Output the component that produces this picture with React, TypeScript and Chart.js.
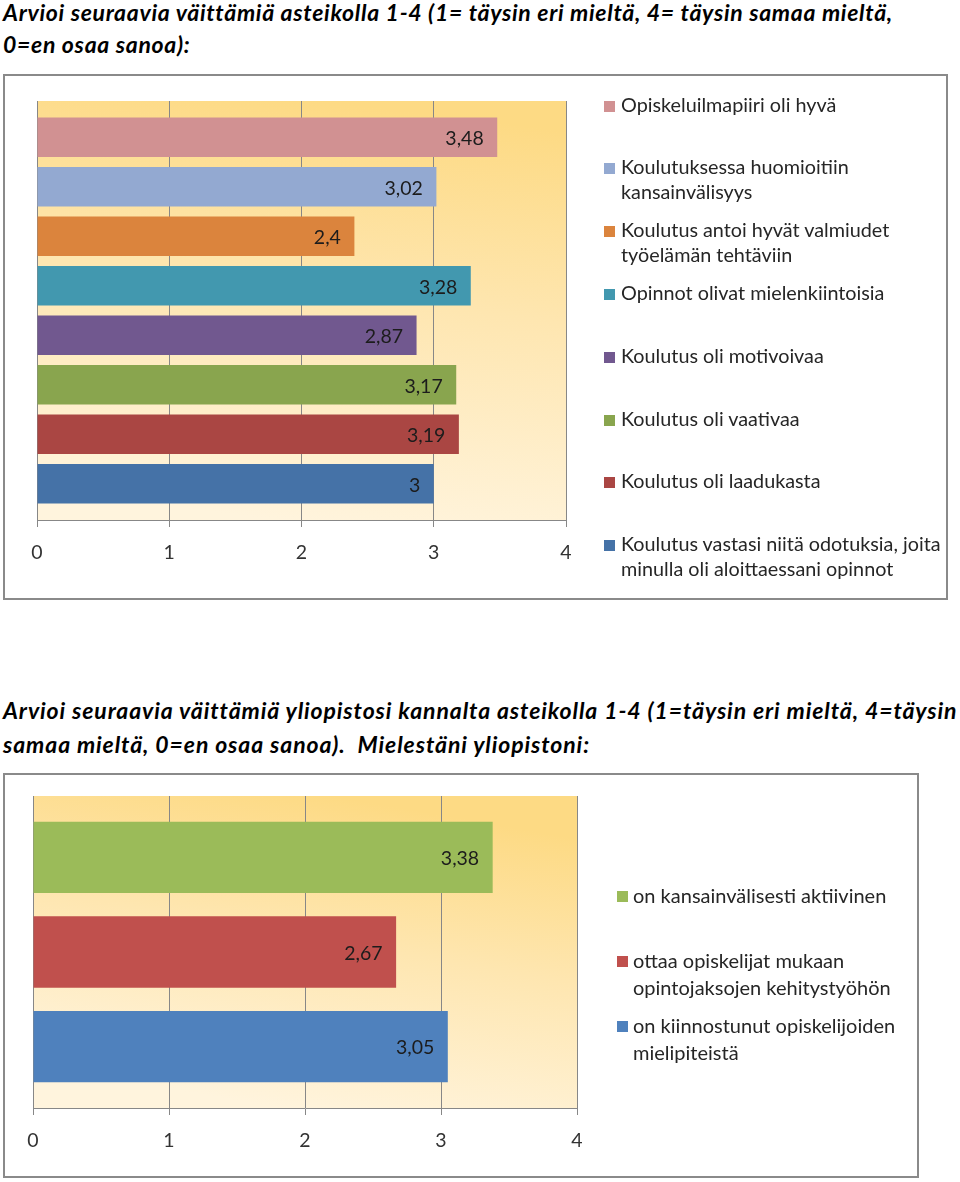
import React, { useEffect, useRef } from "react";
import { Chart, registerables } from "chart.js";

Chart.register(...registerables);

// ---------- data ----------
const title1Lines = [
  "Arvioi seuraavia väittämiä asteikolla 1-4 (1= täysin eri mieltä, 4= täysin samaa mieltä,",
  "0=en osaa sanoa):",
];
const title2Lines = [
  "Arvioi seuraavia väittämiä yliopistosi kannalta asteikolla 1-4 (1=täysin eri mieltä, 4=täysin",
  "samaa mieltä, 0=en osaa sanoa).  Mielestäni yliopistoni:",
];

const chart1Labels = [
  "Opiskeluilmapiiri oli hyvä",
  "Koulutuksessa huomioitiin\nkansainvälisyys",
  "Koulutus antoi hyvät valmiudet\ntyöelämän tehtäviin",
  "Opinnot olivat mielenkiintoisia",
  "Koulutus oli motivoivaa",
  "Koulutus oli vaativaa",
  "Koulutus oli laadukasta",
  "Koulutus vastasi niitä odotuksia, joita\nminulla oli aloittaessani opinnot",
];
const chart1Values = [3.48, 3.02, 2.4, 3.28, 2.87, 3.17, 3.19, 3];
const chart1Colors = [
  "#d19192",
  "#93a9d1",
  "#db843d",
  "#4298af",
  "#71588f",
  "#89a54e",
  "#aa4643",
  "#4572a7",
];

const chart2Labels = [
  "on kansainvälisesti aktiivinen",
  "ottaa opiskelijat mukaan\nopintojaksojen kehitystyöhön",
  "on kiinnostunut opiskelijoiden\nmielipiteistä",
];
const chart2Values = [3.38, 2.67, 3.05];
const chart2Colors = ["#9bbb59", "#c0504d", "#4f81bd"];

const axisMin = 0;
const axisMax = 4;
const axisStep = 1;

// ---------- styling ----------
const FONT = "Lato, 'Open Sans', 'DejaVu Sans', sans-serif";
const GRID = "#878787";

const plotBgPlugin = {
  id: "plotBg",
  beforeDraw(chart: any) {
    const { ctx, chartArea } = chart;
    if (!chartArea) return;
    const { left, top, right, bottom } = chartArea;
    const g = ctx.createLinearGradient(left + (right - left) * 0.55, top, left + (right - left) * 0.45, bottom);
    g.addColorStop(0, "#fdda84");
    g.addColorStop(0.45, "#fee6b0");
    g.addColorStop(1, "#fff4dd");
    ctx.save();
    ctx.fillStyle = g;
    ctx.fillRect(left, top, right - left, bottom - top);
    ctx.restore();
  },
};

const valueLabelPlugin = {
  id: "valueLabels",
  afterDatasetsDraw(chart: any) {
    const ctx = chart.ctx;
    ctx.save();
    ctx.font = `19.5px ${FONT}`;
    ctx.fillStyle = "#1c1c1c";
    ctx.textAlign = "right";
    ctx.textBaseline = "middle";
    chart.data.datasets.forEach((ds: any, i: number) => {
      const meta = chart.getDatasetMeta(i);
      meta.data.forEach((el: any, j: number) => {
        const v = ds.data[j];
        const txt = String(v).replace(".", ",");
        ctx.fillText(txt, el.x - 13.5, el.y + 1.5);
      });
    });
    ctx.restore();
  },
};

type Box = { x: number; y: number; w: number; h: number };
type Plot = { left: number; right: number; top: number; bottom: number };

function BarPanel(props: {
  box: Box;
  plot: Plot;
  values: number[];
  colors: string[];
  labels: string[];
  catPct: number;
  barPct: number;
  legend: { left: number; top: number; spacing: number; fontSize: number; lineHeight: number; textIndent: number; squareTop: number };
}) {
  const { box, plot, values, colors, labels, catPct, barPct, legend } = props;
  const ref = useRef<HTMLCanvasElement>(null);
  const cw = box.w - 4;
  const ch = box.h - 4;

  useEffect(() => {
    const canvas = ref.current!;
    const innerX = box.x + 2;
    const innerY = box.y + 2;
    const chart = new Chart(canvas, {
      type: "bar",
      data: {
        labels: [""],
        datasets: values.map((v, i) => ({
          label: labels[i],
          data: [v],
          backgroundColor: colors[i],
          borderWidth: 0,
          categoryPercentage: catPct,
          barPercentage: barPct,
        })),
      },
      options: {
        indexAxis: "y",
        responsive: false,
        maintainAspectRatio: false,
        animation: false,
        devicePixelRatio: 1,
        layout: {
          padding: {
            left: plot.left - innerX,
            right: innerX + cw - plot.right,
            top: plot.top - innerY,
            bottom: 0,
          },
        },
        plugins: {
          legend: { display: false },
          tooltip: { enabled: false },
          title: { display: false },
        },
        scales: {
          x: {
            type: "linear",
            min: axisMin,
            max: axisMax,
            afterFit: (s: any) => {
              s.height = innerY + ch - plot.bottom;
            },
            ticks: {
              stepSize: axisStep,
              padding: 14,
              color: "#333333",
              font: { family: FONT, size: 19.5 },
              callback: (v: any) => String(v),
            },
            grid: { color: GRID, lineWidth: 1, tickLength: 7, drawTicks: true },
            border: { display: true, color: GRID, width: 1 },
          },
          y: {
            afterFit: (s: any) => {
              s.width = 0;
            },
            ticks: { display: false },
            grid: { display: false, drawTicks: false },
            border: { display: true, color: GRID, width: 1 },
          },
        },
      } as any,
      plugins: [plotBgPlugin, valueLabelPlugin],
    });
    return () => chart.destroy();
  }, []);

  return (
    <>
      <div
        style={{
          position: "absolute",
          left: box.x,
          top: box.y,
          width: cw,
          height: ch,
          border: "2px solid #8a8a8a",
          background: "#ffffff",
        }}
      >
        <canvas ref={ref} width={cw} height={ch} style={{ display: "block", width: cw, height: ch }} />
      </div>
      {labels.map((lab, i) => (
        <div
          key={i}
          style={{
            position: "absolute",
            left: legend.left,
            top: legend.top + i * legend.spacing,
            fontFamily: FONT,
            fontSize: legend.fontSize,
            lineHeight: legend.lineHeight + "px",
            color: "#262626",
            whiteSpace: "pre",
            paddingLeft: legend.textIndent,
          }}
        >
          <span
            style={{
              position: "absolute",
              left: 0,
              top: legend.squareTop,
              width: 11,
              height: 11,
              background: colors[i],
            }}
          />
          {lab}
        </div>
      ))}
    </>
  );
}

function Title({ lines, top, lineHeight, spacing }: { lines: string[]; top: number; lineHeight: number; spacing: number }) {
  return (
    <div
      style={{
        position: "absolute",
        left: 3,
        top,
        fontFamily: FONT,
        fontWeight: 700,
        fontStyle: "italic",
        fontSize: 23,
        letterSpacing: spacing,
        lineHeight: lineHeight + "px",
        color: "#000",
        whiteSpace: "pre",
      }}
    >
      {lines.map((l, i) => (
        <div key={i}>{l}</div>
      ))}
    </div>
  );
}

export default function App() {
  return (
    <div
      style={{
        position: "absolute",
        left: 0,
        top: 0,
        width: 960,
        height: 1182,
        background: "#ffffff",
        overflow: "hidden",
      }}
    >
      <Title lines={title1Lines} top={-4} lineHeight={32} spacing={0.7} />
      <BarPanel
        box={{ x: 3, y: 74, w: 945, h: 526 }}
        plot={{ left: 37, right: 566, top: 101, bottom: 520 }}
        values={chart1Values}
        colors={chart1Colors}
        labels={chart1Labels}
        catPct={0.945}
        barPct={0.794}
        legend={{ left: 604, top: 91.6, spacing: 62.8, fontSize: 19.8, lineHeight: 25, textIndent: 17, squareTop: 9.1 }}
      />
      <Title lines={title2Lines} top={693} lineHeight={34} spacing={0.9} />
      <BarPanel
        box={{ x: 3, y: 773, w: 916, h: 405 }}
        plot={{ left: 33, right: 577, top: 796, bottom: 1108 }}
        values={chart2Values}
        colors={chart2Colors}
        labels={chart2Labels}
        catPct={0.91}
        barPct={0.755}
        legend={{ left: 617, top: 882.1, spacing: 65, fontSize: 20, lineHeight: 27, textIndent: 16, squareTop: 8.8 }}
      />
    </div>
  );
}
